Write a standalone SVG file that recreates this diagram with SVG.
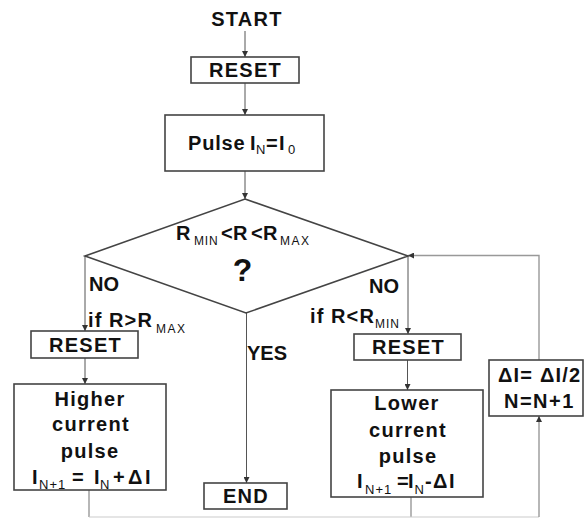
<svg xmlns="http://www.w3.org/2000/svg" width="584" height="518" viewBox="0 0 584 518">
<defs>
<marker id="ah" viewBox="0 0 10 10" refX="10" refY="5" markerWidth="6" markerHeight="6" orient="auto" markerUnits="userSpaceOnUse">
<path d="M0,0 L10,5 L0,10 Z" fill="#333"/>
</marker>
<style>
.box{fill:#fff;stroke:#444;stroke-width:1.6}
.t{font-family:"Liberation Sans",Arial,sans-serif;font-weight:bold;font-size:20px;fill:#111}
.ls{letter-spacing:1.3px}
.sub{font-family:"Liberation Sans",Arial,sans-serif;font-weight:normal;font-size:13px;fill:#111}
.c{fill:none;stroke:#555;stroke-width:1}
.cl{fill:none;stroke:#999;stroke-width:1.4}
.cb{fill:none;stroke:#ccc;stroke-width:1.2}
</style>
</defs>
<rect width="584" height="518" fill="#fff"/>
<g id="connectors">
<line class="c" x1="245" y1="31" x2="245" y2="57" marker-end="url(#ah)"/>
<line class="c" x1="245" y1="83" x2="245" y2="115" marker-end="url(#ah)"/>
<line class="c" x1="245" y1="171" x2="245" y2="199" marker-end="url(#ah)"/>
<line class="c" x1="85" y1="256" x2="85" y2="331" marker-end="url(#ah)"/>
<line class="c" x1="85" y1="358" x2="85" y2="384" marker-end="url(#ah)"/>
<line class="c" x1="246.5" y1="313" x2="246.5" y2="483" marker-end="url(#ah)"/>
<line class="c" x1="408" y1="256" x2="408" y2="334" marker-end="url(#ah)"/>
<line class="c" x1="407.5" y1="360" x2="407.5" y2="390" marker-end="url(#ah)"/>
<polyline class="cl" points="89,490 89,517"/>
<polyline class="cl" points="411,497 411,517"/>
<polyline class="cb" points="89,517 539,517"/>
<polyline class="cl" points="539,517 539,416" marker-end="url(#ah)"/>
<polyline class="cl" points="539,360 539,255.5 408,255.5" marker-end="url(#ah)"/>
</g>
<g id="start">
<text class="t ls" x="247" y="26" text-anchor="middle">START</text>
</g>
<g id="reset1">
<rect class="box" x="191" y="57" width="108" height="26"/>
<text class="t ls" x="245.5" y="77" text-anchor="middle">RESET</text>
</g>
<g id="pulse">
<rect class="box" x="165" y="115" width="159" height="56"/>
<text class="t" x="188" y="150" letter-spacing="0.8">Pulse</text>
<text class="t" x="250" y="150">I</text>
<text class="sub" x="256" y="154">N</text>
<text class="t" x="266" y="150">=</text>
<text class="t" x="279" y="150">I</text>
<text class="sub" x="288" y="154">0</text>
</g>
<g id="decision">
<polygon class="box" points="245,199 408,256 246,313 85,256"/>
<text class="t" x="176" y="240">R</text>
<text class="sub" x="194" y="245" style="font-size:12px" letter-spacing="0.8">MIN</text>
<text class="t" x="221 233 251 263" y="240">&lt;R&lt;R</text>
<text class="sub" x="280" y="245" style="font-size:12px" letter-spacing="1.5">MAX</text>
<text class="t" x="242.5" y="281" text-anchor="middle" style="font-size:32px">?</text>
</g>
<g id="label-no-left">
<text class="t" x="89" y="291">NO</text>
<text class="t" x="88" y="327" letter-spacing="1.1">if R&gt;R</text>
<text class="sub" x="156" y="333" style="font-size:12px" letter-spacing="1.5">MAX</text>
</g>
<g id="label-no-right">
<text class="t" x="369" y="293">NO</text>
<text class="t" x="310" y="323" letter-spacing="1.1">if R&lt;R</text>
<text class="sub" x="375" y="328" style="font-size:12px" letter-spacing="1">MIN</text>
</g>
<g id="label-yes">
<text class="t" x="247" y="360">YES</text>
</g>
<g id="reset-left">
<rect class="box" x="31" y="331" width="107" height="27"/>
<text class="t ls" x="85.5" y="351.5" text-anchor="middle">RESET</text>
</g>
<g id="reset-right">
<rect class="box" x="354" y="334" width="107" height="26"/>
<text class="t ls" x="408.5" y="354" text-anchor="middle">RESET</text>
</g>
<g id="higher">
<rect class="box" x="14" y="384" width="152" height="106"/>
<text class="t ls" x="90" y="405.5" text-anchor="middle">Higher</text>
<text class="t ls" x="91" y="431" text-anchor="middle">current</text>
<text class="t ls" x="90" y="458" text-anchor="middle">pulse</text>
<text class="t" x="32" y="484">I</text>
<text class="sub" x="39" y="489" letter-spacing="1">N+1</text>
<text class="t" x="72" y="484">=</text>
<text class="t" x="94" y="484">I</text>
<text class="sub" x="100" y="489">N</text>
<text class="t" x="113 128 145" y="484">+ΔI</text>
</g>
<g id="end">
<rect class="box" x="204" y="483" width="83" height="26"/>
<text class="t ls" x="246" y="503" text-anchor="middle">END</text>
</g>
<g id="lower">
<rect class="box" x="331" y="390" width="152" height="107"/>
<text class="t ls" x="407" y="410" text-anchor="middle">Lower</text>
<text class="t ls" x="408" y="437" text-anchor="middle">current</text>
<text class="t ls" x="408" y="463" text-anchor="middle">pulse</text>
<text class="t" x="357" y="488">I</text>
<text class="sub" x="365" y="494" letter-spacing="1">N+1</text>
<text class="t" x="397 408" y="488">=I</text>
<text class="sub" x="414.5" y="494">N</text>
<text class="t" x="425 433 449" y="488">-ΔI</text>
</g>
<g id="halve">
<rect class="box" x="489" y="360" width="94" height="56"/>
<text class="t" x="498" y="382" letter-spacing="1.2">ΔI= ΔI/2</text>
<text class="t" x="504" y="408" letter-spacing="1.5">N=N+1</text>
</g>
</svg>
